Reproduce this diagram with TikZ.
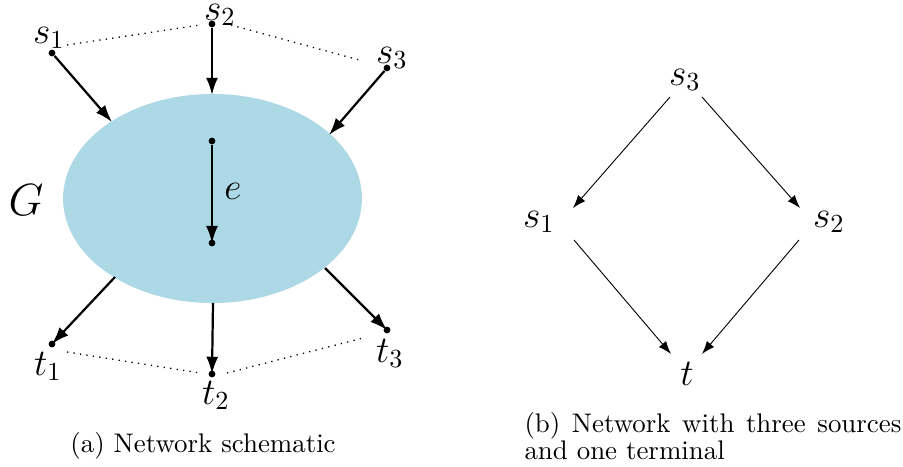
\documentclass[tikz,border=0pt]{standalone}
\usetikzlibrary{arrows.meta,shapes.geometric}
\definecolor{gblue}{RGB}{173,216,230}
\begin{document}
\begin{tikzpicture}[x=0.3831pt,y=-0.3831pt,
  dot/.style={circle,fill=black,inner sep=0pt,minimum size=2.6pt},
  lab/.style={anchor=base,inner sep=0pt},
  captext/.style={inner sep=0pt,font=\fontsize{10.3pt}{12pt}\selectfont},
  bigarr/.style={-{Latex[length=6.6pt,width=4.6pt]},line width=0.85pt},
  thinarr/.style={-{Latex[length=5pt,width=3.6pt]},line width=0.35pt},
  dotline/.style={dotted,line width=0.5pt}]
\useasboundingbox (0,0) rectangle (903,466);
% ----- (a) -----
\node[ellipse,fill=gblue,minimum width=114.5pt,minimum height=80.1pt,inner sep=0pt] (ell) at (212.5,198.5) {};
\node[lab,font=\LARGE] (G) at (26,215) {$G$};
\node[dot] (s1) at (52,53) {};
\node[dot] (s2) at (212,24) {};
\node[dot] (s3) at (387,68) {};
\node[dot] (t1) at (52,344) {};
\node[dot] (t2) at (212,374) {};
\node[dot] (t3) at (387,330) {};
\node[dot] (ea) at (212,141) {};
\node[dot] (eb) at (212,243) {};
\node[lab,font=\Large] (ls1) at (49,43) {$s_1$};
\node[lab,font=\Large] (ls2) at (220,20) {$s_2$};
\node[lab,font=\Large] (ls3) at (392,63) {$s_3$};
\node[lab,font=\Large] (lt1) at (48,375) {$t_1$};
\node[lab,font=\Large] (lt2) at (216,404) {$t_2$};
\node[lab,font=\Large] (lt3) at (390,362) {$t_3$};
\node[lab,font=\Large] (le) at (233,199) {$e$};
\coordinate (in1) at (112,122);
\coordinate (in2) at (212,95);
\coordinate (in3) at (329,135);
\coordinate (out1) at (115,277);
\coordinate (out2) at (213,303);
\coordinate (out3) at (325,268);
\draw[bigarr] (s1) -- (in1);
\draw[bigarr] (s2) -- (in2);
\draw[bigarr] (s3) -- (in3);
\draw[bigarr] (out1) -- (t1.center);
\draw[bigarr] (out2) -- (t2.center);
\draw[bigarr] (out3) -- (t3.center);
\draw[bigarr,line width=0.65pt] (ea) -- (eb.center);
\coordinate (d1) at (67,45);
\coordinate (d2) at (200,25);
\coordinate (d3) at (231,25);
\coordinate (d4) at (363,61);
\coordinate (d5) at (67,352);
\coordinate (d6) at (200,373);
\coordinate (d7) at (227,373);
\coordinate (d8) at (363,338);
\draw[dotline] (d1) -- (d2);
\draw[dotline] (d3) -- (d4);
\draw[dotline] (d5) -- (d6);
\draw[dotline] (d7) -- (d8);
\node[captext,anchor=base] (capa) at (203,452) {(a) Network schematic};
% ----- (b) -----
\node[lab,font=\Large] (r3) at (685,85) {$s_3$};
\node[lab,font=\Large] (r1) at (539,227) {$s_1$};
\node[lab,font=\Large] (r2) at (829,227) {$s_2$};
\node[lab,font=\Large] (rt) at (687,385) {$t$};
\coordinate (a1) at (670,97);
\coordinate (b1) at (573,208);
\coordinate (a2) at (702,97);
\coordinate (b2) at (800,208);
\coordinate (a3) at (574,240);
\coordinate (b3) at (671,354);
\coordinate (a4) at (799,240);
\coordinate (b4) at (702,354);
\draw[thinarr] (a1) -- (b1);
\draw[thinarr] (a2) -- (b2);
\draw[thinarr] (a3) -- (b3);
\draw[thinarr] (a4) -- (b4);
\node[captext,anchor=base west] (capb1) at (524,432) {\makebox[144.4pt][s]{(b) Network with three sources}};
\node[captext,anchor=base west] (capb2) at (524,459) {and one terminal};
\end{tikzpicture}
\end{document}
